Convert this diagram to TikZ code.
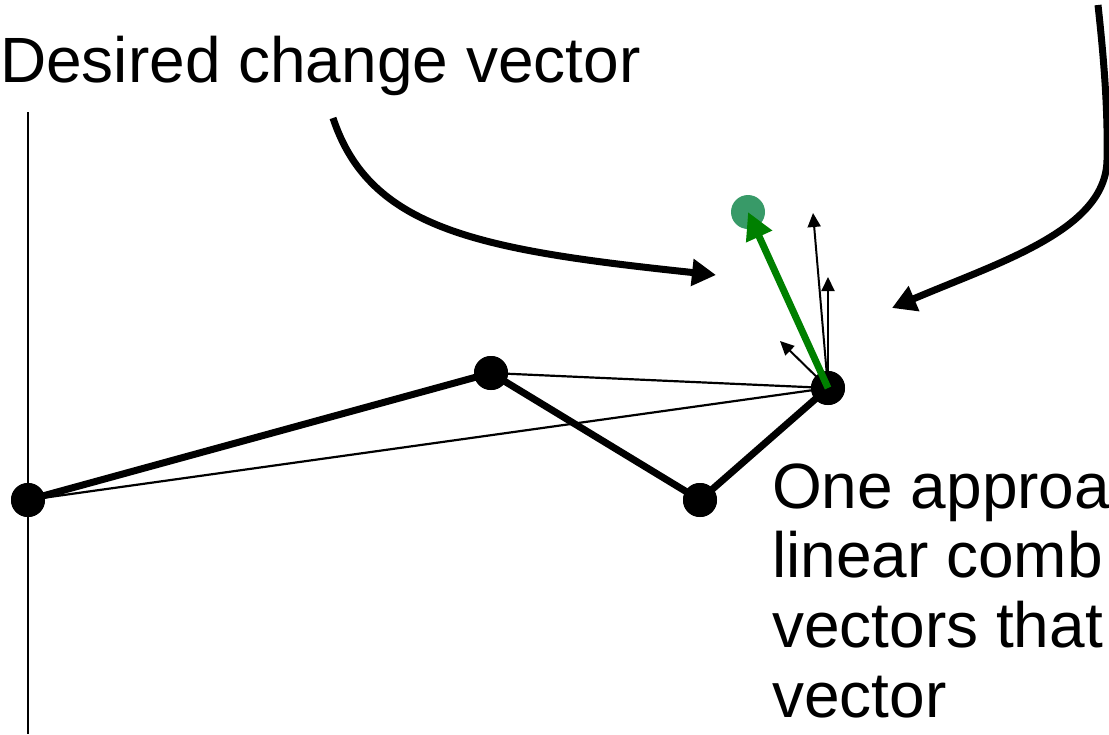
\documentclass[tikz,border=0pt]{standalone}
\usepackage{fontspec}
\setmainfont{Liberation Sans}
\usetikzlibrary{arrows.meta}
\definecolor{goalgreen}{RGB}{56,154,104}
\definecolor{vecgreen}{RGB}{0,128,0}
\begin{document}
\begin{tikzpicture}[x=1pt,y=-1pt,
  jointdot/.style={circle,fill=black,inner sep=0pt,minimum size=34pt},
  goaldot/.style={circle,fill=goalgreen,inner sep=0pt,minimum size=34pt},
  captiontext/.style={inner sep=0pt,anchor=base west,font=\fontsize{64}{70}\selectfont},
  limbline/.style={line width=7pt},
  chordline/.style={line width=2.2pt},
  axisline/.style={line width=2pt},
  pointerarrow/.style={line width=7pt,-{Triangle[length=24pt,width=26pt]}},
  jacarrow/.style={line width=2pt,-{Triangle[length=14pt,width=13pt]}},
  deltaarrow/.style={vecgreen,line width=7pt,-{Triangle[length=27pt,width=27pt]}}]
\useasboundingbox (0,0) rectangle (1109,734);

% base axis
\coordinate (axtop) at (28,112);
\coordinate (axbot) at (28,734);
\draw[axisline] (axtop) -- (axbot);

% joints of the arm
\node[jointdot] (j1) at (28,500) {};
\node[jointdot] (j2) at (491,373) {};
\node[jointdot] (j3) at (700,500) {};
\node[jointdot] (j4) at (828,388) {};

% chords from the end effector
\draw[chordline] (j2.center) -- (j4.center);
\draw[chordline] (j1.center) -- (j4.center);

% links
\draw[limbline, line join=round] (j1.center) -- (j2.center) -- (j3.center) -- (j4.center);

% redraw joints over the links
\node[jointdot] at (j1) {};
\node[jointdot] at (j2) {};
\node[jointdot] at (j3) {};
\node[jointdot] at (j4) {};

% Jacobian column vectors
\coordinate (ja) at (813,213);
\coordinate (jb) at (828,277);
\coordinate (jc) at (780,341);
\draw[jacarrow] (j4.center) -- (ja);
\draw[jacarrow] (j4.center) -- (jb);
\draw[jacarrow] (j4.center) -- (jc);

% goal and desired change
\node[goaldot] (goal) at (748,212) {};
\draw[deltaarrow] (j4.center) -- (goal.center);

% callout arrows
\coordinate (lstart) at (333,118);
\coordinate (lend) at (716,275);
\draw[pointerarrow] (lstart) .. controls (370,230) and (480,250) .. (lend);

\coordinate (rstart) at (1098,5);
\coordinate (rmid) at (1107,160);
\coordinate (rend) at (892,308);
\draw[pointerarrow] (rstart) .. controls (1104,60) and (1108,110) .. (rmid)
  .. controls (1106,230) and (1000,262) .. (rend);

% texts
\node[captiontext] (title) at (0,82) {Desired change vector};
\node[captiontext] (lineA) at (772,508) {One approa};
\node[captiontext] (lineB) at (772,577) {linear comb};
\node[captiontext] (lineC) at (772,647) {vectors that};
\node[captiontext] (lineD) at (772,717) {vector};
\end{tikzpicture}
\end{document}
